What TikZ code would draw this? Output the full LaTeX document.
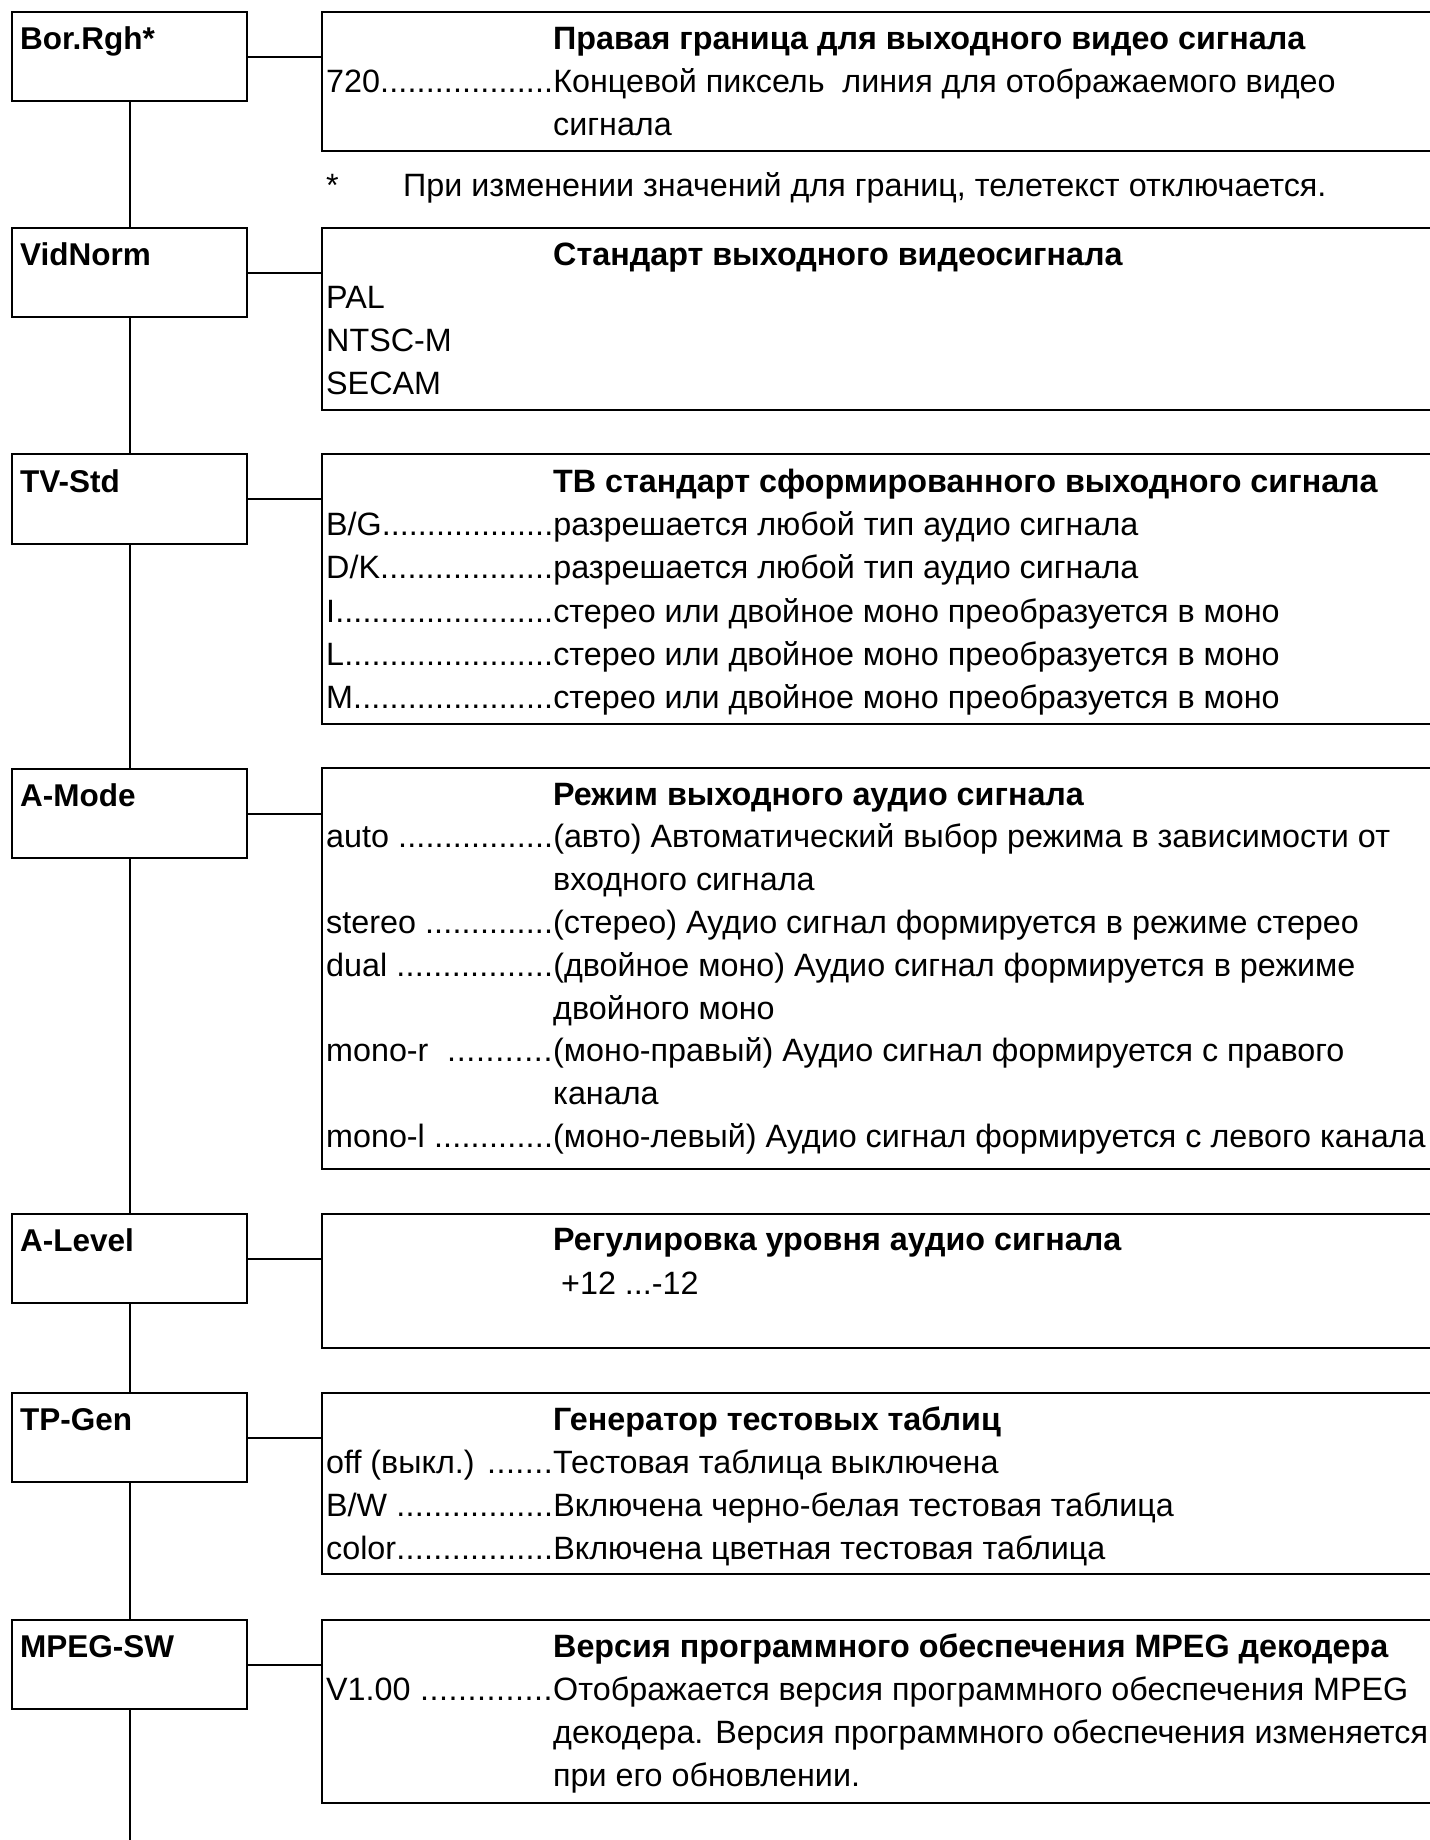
\documentclass[tikz,border=0pt]{standalone}
\usepackage{fontspec}
\setmainfont{Liberation Sans}
\newcommand\dl[1]{\makebox[227pt][l]{#1\xleaders\hbox{.}\hfill}}
\tikzset{
  lbx/.style={draw, line width=2.4pt, minimum width=235pt, minimum height=89pt, inner sep=0pt, anchor=north west},
  rbx/.style={draw, line width=2.4pt, minimum width=1130pt, inner sep=0pt, anchor=north west},
  txt/.style={inner sep=0pt, anchor=base west, font=\fontsize{32.3}{38}\selectfont},
  ttl/.style={inner sep=0pt, anchor=base west, font=\fontsize{32.3}{38}\selectfont\bfseries},
  lbl/.style={inner sep=0pt, anchor=base west, font=\fontsize{31.5}{38}\selectfont\bfseries},
  conn/.style={line width=2.4pt},
}
\begin{document}
\begin{tikzpicture}[x=1pt,y=-1pt]
\useasboundingbox (0,0) rectangle (1430,1840);
\clip (0,0) rectangle (1430,1840);
% left boxes
\node[lbx] (L1) at (11,11) {};
\node[lbx] (L2) at (11,227) {};
\node[lbx, minimum height=90pt] (L3) at (11,453) {};
\node[lbx] (L4) at (11,768) {};
\node[lbx] (L5) at (11,1213) {};
\node[lbx] (L6) at (11,1392) {};
\node[lbx] (L7) at (11,1619) {};
\node[lbl] (L1t) at (20,49) {Bor.Rgh*};
\node[lbl] (L2t) at (20,265) {VidNorm};
\node[lbl] (L3t) at (20,492) {TV-Std};
\node[lbl] (L4t) at (20,806) {A-Mode};
\node[lbl] (L5t) at (20,1251) {A-Level};
\node[lbl] (L6t) at (20,1430) {TP-Gen};
\node[lbl] (L7t) at (20,1657) {MPEG-SW};
% right boxes
\node[rbx, minimum height=139pt] (R1) at (320.5,11) {};
\node[rbx, minimum height=182pt] (R2) at (320.5,227) {};
\node[rbx, minimum height=270pt] (R3) at (320.5,453) {};
\node[rbx, minimum height=401pt] (R4) at (320.5,767) {};
\node[rbx, minimum height=134pt] (R5) at (320.5,1213) {};
\node[rbx, minimum height=181pt] (R6) at (320.5,1392) {};
\node[rbx, minimum height=183pt] (R7) at (320.5,1619) {};
% connectors
\foreach \i in {1,...,7} \draw[conn] (L\i.east) -- (L\i.east -| R\i.west);
\draw[conn] (L1.south) -- (L2.north);
\draw[conn] (L2.south) -- (L3.north);
\draw[conn] (L3.south) -- (L4.north);
\draw[conn] (L4.south) -- (L5.north);
\draw[conn] (L5.south) -- (L6.north);
\draw[conn] (L6.south) -- (L7.north);
\coordinate (bot) at (128.5,1845);
\draw[conn] (L7.south) -- (L7.south |- bot);
% box 1
\node[ttl] (a0) at (553,49) {Правая граница для выходного видео сигнала};
\node[txt] (a1) at (326,92.5) {\dl{720}Концевой пиксель \ линия для отображаемого видео};
\node[txt] (a2) at (553,135.5) {сигнала};
\node[txt] (fn1) at (326,196.7) {*};
\node[txt] (fn2) at (403,196.7) {При изменении значений для границ, телетекст отключается.};
% box 2
\node[ttl] (b0) at (553,265) {Стандарт выходного видеосигнала};
\node[txt] (b1) at (326,308.5) {PAL};
\node[txt] (b2) at (326,351.5) {NTSC-M};
\node[txt] (b3) at (326,394.5) {SECAM};
% box 3
\node[ttl] (c0) at (553,492) {ТВ стандарт сформированного выходного сигнала};
\node[txt] (c1) at (326,535.5) {\dl{B/G}разрешается любой тип аудио сигнала};
\node[txt] (c2) at (326,578.5) {\dl{D/K}разрешается любой тип аудио сигнала};
\node[txt] (c3) at (326,622) {\dl{I}стерео или двойное моно преобразуется в моно};
\node[txt] (c4) at (326,665) {\dl{L}стерео или двойное моно преобразуется в моно};
\node[txt] (c5) at (326,708.5) {\dl{M}стерео или двойное моно преобразуется в моно};
% box 4
\node[ttl] (d0) at (553,805) {Режим выходного аудио сигнала};
\node[txt] (d1) at (326,847.8) {\dl{auto }(авто) Автоматический выбор режима в зависимости от};
\node[txt] (d2) at (553,890.6) {входного сигнала};
\node[txt] (d3) at (326,933.4) {\dl{stereo }(стерео) Аудио сигнал формируется в режиме стерео};
\node[txt] (d4) at (326,976.2) {\dl{dual }(двойное моно) Аудио сигнал формируется в режиме};
\node[txt] (d5) at (553,1019) {двойного моно};
\node[txt] (d6) at (326,1061.8) {\dl{mono-r \ }(моно-правый) Аудио сигнал формируется с правого};
\node[txt] (d7) at (553,1104.6) {канала};
\node[txt] (d8) at (326,1147.4) {\dl{mono-l }(моно-левый) Аудио сигнал формируется с левого канала};
% box 5
\node[ttl] (e0) at (553,1250) {Регулировка уровня аудио сигнала};
\node[txt] (e1) at (561,1294) {+12 ...-12};
% box 6
\node[ttl] (f0) at (553,1430) {Генератор тестовых таблиц};
\node[txt] (f1) at (326,1473) {\dl{off (выкл.) }Тестовая таблица выключена};
\node[txt] (f2) at (326,1516) {\dl{B/W }Включена черно-белая тестовая таблица};
\node[txt] (f3) at (326,1559) {\dl{color}Включена цветная тестовая таблица};
% box 7
\node[ttl] (g0) at (553,1657) {Версия программного обеспечения MPEG декодера};
\node[txt] (g1) at (326,1700) {\dl{V1.00 }Отображается версия программного обеспечения MPEG};
\node[txt] (g2) at (553,1743) {декодера. Версия программного обеспечения изменяется};
\node[txt] (g3) at (553,1786) {при его обновлении.};
\end{tikzpicture}
\end{document}
